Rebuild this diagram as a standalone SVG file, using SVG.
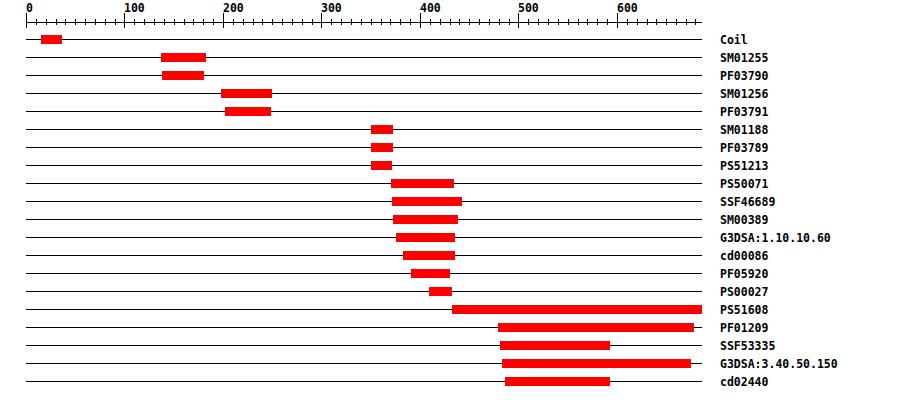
<svg xmlns="http://www.w3.org/2000/svg" width="900" height="400" viewBox="0 0 900 400">
<style>
.t{font-family:"DejaVu Sans Mono","Liberation Mono",monospace;font-weight:bold;font-size:11.5px;fill:#000}
.trk{stroke:#000;stroke-width:1;fill:none}
.bar{fill:#ff0000}
</style>
<rect x="0" y="0" width="900" height="400" fill="#fff"/>
<g id="axis">
<path class="trk" d="M26 22.5H702"/>
<path class="trk" d="M26.5 13V28M124.5 13V28M223.5 13V28M321.5 13V28M420.5 13V28M518.5 13V28M617.5 13V28"/>
<path class="trk" d="M36.5 19V25M46.5 19V25M56.5 19V25M65.5 19V25M75.5 19V25M85.5 19V25M95.5 19V25M105.5 19V25M115.5 19V25M134.5 19V25M144.5 19V25M154.5 19V25M164.5 19V25M174.5 19V25M184.5 19V25M193.5 19V25M203.5 19V25M213.5 19V25M233.5 19V25M243.5 19V25M253.5 19V25M262.5 19V25M272.5 19V25M282.5 19V25M292.5 19V25M302.5 19V25M312.5 19V25M331.5 19V25M341.5 19V25M351.5 19V25M361.5 19V25M371.5 19V25M381.5 19V25M390.5 19V25M400.5 19V25M410.5 19V25M430.5 19V25M440.5 19V25M450.5 19V25M459.5 19V25M469.5 19V25M479.5 19V25M489.5 19V25M499.5 19V25M509.5 19V25M528.5 19V25M538.5 19V25M548.5 19V25M558.5 19V25M568.5 19V25M578.5 19V25M587.5 19V25M597.5 19V25M607.5 19V25M627.5 19V25M637.5 19V25M647.5 19V25M656.5 19V25M666.5 19V25M676.5 19V25M686.5 19V25M695.5 19V25"/>
<text class="t" x="26" y="12">0</text>
<text class="t" x="124" y="12">100</text>
<text class="t" x="223" y="12">200</text>
<text class="t" x="321" y="12">300</text>
<text class="t" x="420" y="12">400</text>
<text class="t" x="518" y="12">500</text>
<text class="t" x="617" y="12">600</text>
</g>
<g id="connectors">
<path class="trk" d="M26 39.5H702M26 57.5H702M26 75.5H702M26 93.5H702M26 111.5H702M26 129.5H702M26 147.5H702M26 165.5H702M26 183.5H702M26 201.5H702M26 219.5H702M26 237.5H702M26 255.5H702M26 273.5H702M26 291.5H702M26 309.5H702M26 327.5H702M26 345.5H702M26 363.5H702M26 381.5H702"/>
</g>
<g id="Coil"><rect class="bar" x="41" y="35" width="21" height="9"/><text class="t" x="720" y="43.5">Coil</text></g>
<g id="SM01255"><rect class="bar" x="161" y="53" width="45" height="9"/><text class="t" x="720" y="61.5">SM01255</text></g>
<g id="PF03790"><rect class="bar" x="162" y="71" width="42" height="9"/><text class="t" x="720" y="79.5">PF03790</text></g>
<g id="SM01256"><rect class="bar" x="221" y="89" width="51" height="9"/><text class="t" x="720" y="97.5">SM01256</text></g>
<g id="PF03791"><rect class="bar" x="225" y="107" width="46" height="9"/><text class="t" x="720" y="115.5">PF03791</text></g>
<g id="SM01188"><rect class="bar" x="371" y="125" width="22" height="9"/><text class="t" x="720" y="133.5">SM01188</text></g>
<g id="PF03789"><rect class="bar" x="371" y="143" width="22" height="9"/><text class="t" x="720" y="151.5">PF03789</text></g>
<g id="PS51213"><rect class="bar" x="371" y="161" width="21" height="9"/><text class="t" x="720" y="169.5">PS51213</text></g>
<g id="PS50071"><rect class="bar" x="391" y="179" width="63" height="9"/><text class="t" x="720" y="187.5">PS50071</text></g>
<g id="SSF46689"><rect class="bar" x="392" y="197" width="70" height="9"/><text class="t" x="720" y="205.5">SSF46689</text></g>
<g id="SM00389"><rect class="bar" x="393" y="215" width="65" height="9"/><text class="t" x="720" y="223.5">SM00389</text></g>
<g id="G3DSA_1.10.10.60"><rect class="bar" x="396" y="233" width="59" height="9"/><text class="t" x="720" y="241.5">G3DSA:1.10.10.60</text></g>
<g id="cd00086"><rect class="bar" x="403" y="251" width="52" height="9"/><text class="t" x="720" y="259.5">cd00086</text></g>
<g id="PF05920"><rect class="bar" x="411" y="269" width="39" height="9"/><text class="t" x="720" y="277.5">PF05920</text></g>
<g id="PS00027"><rect class="bar" x="429" y="287" width="23" height="9"/><text class="t" x="720" y="295.5">PS00027</text></g>
<g id="PS51608"><rect class="bar" x="452" y="305" width="250" height="9"/><text class="t" x="720" y="313.5">PS51608</text></g>
<g id="PF01209"><rect class="bar" x="498" y="323" width="196" height="9"/><text class="t" x="720" y="331.5">PF01209</text></g>
<g id="SSF53335"><rect class="bar" x="500" y="341" width="110" height="9"/><text class="t" x="720" y="349.5">SSF53335</text></g>
<g id="G3DSA_3.40.50.150"><rect class="bar" x="502" y="359" width="189" height="9"/><text class="t" x="720" y="367.5">G3DSA:3.40.50.150</text></g>
<g id="cd02440"><rect class="bar" x="505" y="377" width="105" height="9"/><text class="t" x="720" y="385.5">cd02440</text></g>
</svg>
